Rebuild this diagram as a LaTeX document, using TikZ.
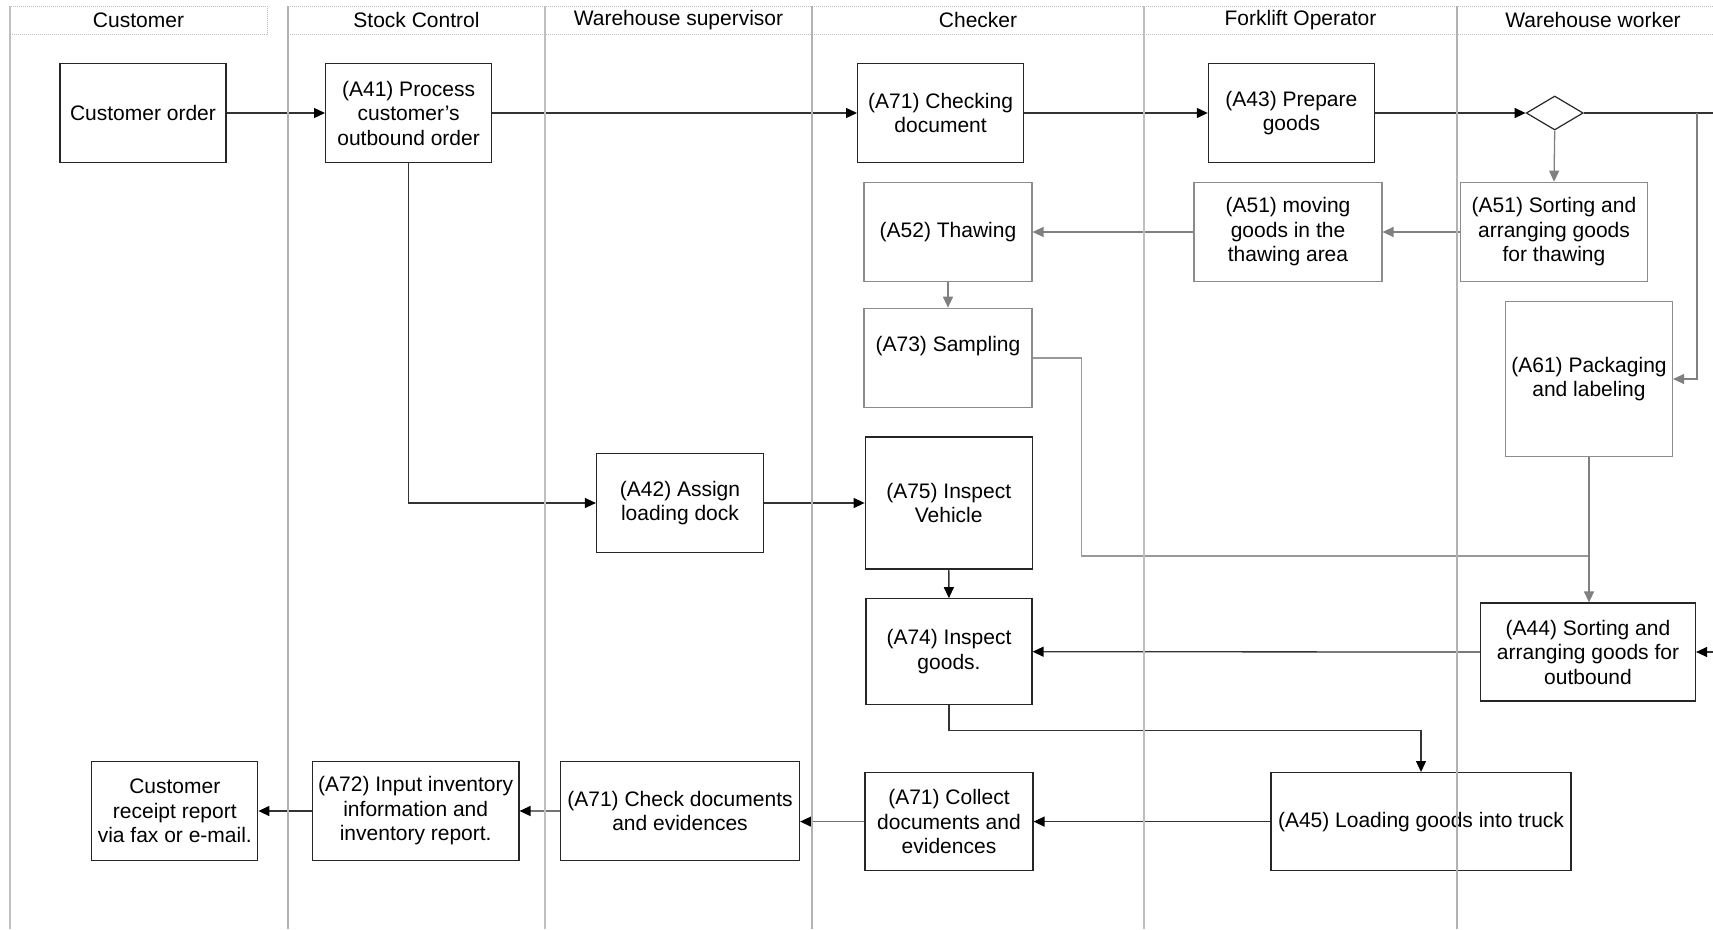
\documentclass[tikz,border=0pt]{standalone}
\usepackage{fontspec}
\setmainfont{Liberation Sans}
\usetikzlibrary{arrows.meta,shapes.geometric}
\begin{document}
\begin{tikzpicture}[x=1pt,y=-1pt,
  every node/.style={font=\fontsize{21}{24.5}\selectfont},
  blkbox/.style={draw=black!85, line width=1.2pt, align=center, inner sep=0pt, fill=white},
  grybox/.style={draw=black!45, line width=1.2pt, align=center, inner sep=0pt, fill=white},
  blk/.style={draw=black!80, line width=1.3pt, -{Triangle[length=11pt,width=10pt,color=black]}},
  gblk/.style={draw=black!55, line width=1.3pt, -{Triangle[length=11pt,width=10pt,color=black]}},
  gry/.style={draw=black!50, line width=1.3pt, -{Triangle[length=11pt,width=10pt,color=black!50]}},
  gryline/.style={draw=black!40, line width=1.3pt},
  blkline/.style={draw=black!80, line width=1.3pt},
  thinlane/.style={draw=black!25, line width=1.1pt},
  thicklane/.style={draw=black!30, line width=2pt},
  hdr/.style={draw=black!25, densely dotted, line width=1pt}
]
\useasboundingbox (0,0) rectangle (1713,929);

% header
\draw[hdr] (10,6) rectangle (267,34);
\draw[hdr] (288,6) -- (1713,6);
\draw[hdr] (288,34) -- (1713,34);
\node (h1) at (138.5,20) {Customer};
\node (h2) at (416.5,20) {Stock Control};
\node (h3) at (678.5,20) {Warehouse supervisor};
\node (h4) at (978,20) {Checker};
\node (h5) at (1300.5,20) {Forklift Operator};
\node (h6) at (1593,20) {Warehouse worker};

% nodes
\node[blkbox, minimum width=166pt, minimum height=99.5pt] (co) at (143,113) {Customer order};
\node[blkbox, minimum width=166pt, minimum height=99.5pt] (a41) at (408.6,113) {(A41) Process\\customer’s\\outbound order};
\node[blkbox, minimum width=166pt, minimum height=99.5pt] (a71c) at (940.6,113) {(A71) Checking\\document};
\node[blkbox, minimum width=166pt, minimum height=99.5pt] (a43) at (1291.4,113) {(A43) Prepare\\goods};
\node[draw=black!85, line width=1.2pt, diamond, minimum width=57pt, minimum height=34pt, inner sep=0pt] (dia) at (1554.7,113) {};

\node[grybox, minimum width=168pt, minimum height=99.5pt] (a52) at (948,232) {(A52) Thawing};
\node[grybox, minimum width=188pt, minimum height=99.5pt] (a51m) at (1288,232) {(A51) moving\\goods in the\\thawing area};
\node[grybox, minimum width=187pt, minimum height=99.5pt] (a51s) at (1554,232) {(A51) Sorting and\\arranging goods\\for thawing};
\node[grybox, minimum width=168pt, minimum height=99.5pt] (a73) at (948,358) {};
\node (a73t) at (948,346) {(A73) Sampling};
\node[grybox, minimum width=167pt, minimum height=155pt] (a61) at (1589,379) {(A61) Packaging\\and labeling};

\node[blkbox, minimum width=167pt, minimum height=99.5pt] (a42) at (680,503) {(A42) Assign\\loading dock};
\node[blkbox, minimum width=167pt, minimum height=132pt] (a75) at (948.7,503) {(A75) Inspect\\Vehicle};
\node[blkbox, minimum width=166pt, minimum height=106pt] (a74) at (949,651.7) {(A74) Inspect\\goods.};
\node[blkbox, minimum width=215pt, minimum height=98pt] (a44) at (1588,652) {(A44) Sorting and\\arranging goods for\\outbound};

\node[blkbox, minimum width=300pt, minimum height=98pt] (a45) at (1421,821.6) {(A45) Loading goods into truck};
\node[blkbox, minimum width=168pt, minimum height=98pt] (a71k) at (949,821.6) {(A71) Collect\\documents and\\evidences};
\node[blkbox, minimum width=239pt, minimum height=99.5pt] (a71d) at (680,811) {(A71) Check documents\\and evidences};
\node[blkbox, minimum width=206.5pt, minimum height=99.5pt] (a72) at (415.7,811) {(A72) Input inventory\\information and\\inventory report.};
\node[blkbox, minimum width=166pt, minimum height=99.5pt] (crr) at (174.8,811) {Customer\\receipt report\\via fax or e-mail.};

% helper coordinates
\coordinate (redge1) at (1713,113);
\coordinate (j1) at (1697,113);
\coordinate (redge2) at (1713,652);
\coordinate (m1) at (1081.6,556);

% connectors
\draw[blk] (co) -- (a41);
\draw[blk] (a41) -- (a71c);
\draw[blk] (a71c) -- (a43);
\draw[blk] (a43) -- (dia.west);
\draw[blkline] (dia.east) -- (redge1);
\draw[gry] (j1) |- (a61.east);
\draw[blk] (redge2) -- (a44.east);
\draw[gry] (dia.south) -- (a51s.north);
\draw[gry] (a51s) -- (a51m);
\draw[gry] (a51m) -- (a52);
\draw[gry] (a52) -- (a73);
\draw[gryline] (a73.east) -| (m1) -- (m1 -| a44.north);
\draw[gry] (a61.south) -- (a61.south |- a44.north);
\draw[blk] (a41.south) |- (a42.west);
\draw[blk] (a42) -- (a75);
\draw[blk] (a75) -- (a74);
\draw[blk] (a44.west) -- (a74.east);
\draw[blk] (a74.south) -- ++(0,25.3) -| (a45.north);
\draw[blk] (a45) -- (a71k);
\draw[gblk] (a71k.west) -- (a71k.west -| a71d.east);
\draw[gblk] (a71d) -- (a72);
\draw[blk] (a72) -- (crr);

% lane lines
\draw[thinlane] (10,6) -- (10,929);
\draw[thicklane] (288,6) -- (288,929);
\draw[thinlane] (545,6) -- (545,929);
\draw[thicklane] (812,6) -- (812,929);
\draw[thinlane] (1144,6) -- (1144,929);
\draw[thicklane] (1457,6) -- (1457,929);
\end{tikzpicture}
\end{document}
